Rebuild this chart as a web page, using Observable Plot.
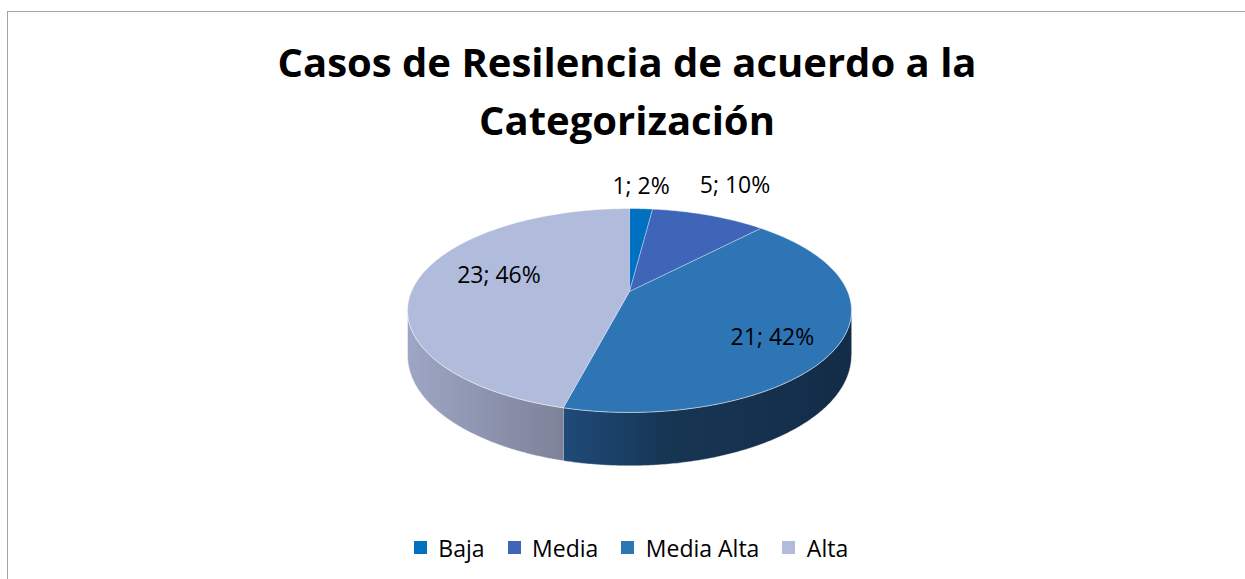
<!DOCTYPE html>
<html>
<head>
<meta charset="utf-8">
<script src="https://cdn.jsdelivr.net/npm/d3@7"></script>
<script src="https://cdn.jsdelivr.net/npm/@observablehq/plot@0.6"></script>
<style>
  body { margin: 0; background: #fff; }
  #chart { position: relative; width: 1245px; height: 579px; overflow: hidden; font-family: "Open Sans", sans-serif; }
  #frame { position: absolute; left: 7px; top: 11px; width: 1260px; height: 600px; border-left: 1.5px solid #a3a3a3; border-top: 1.5px solid #a3a3a3; }
  #pie { position: absolute; left: 0; top: 0; }
  #title { position: absolute; left: 4.5px; width: 1245px; top: 32.5px; text-align: center; font-weight: 700; font-size: 40px; line-height: 58px; color: #000; }
  #legend { position: absolute; left: 20px; width: 1245px; top: 531px; }
</style>
</head>
<body>
<div id="chart">
  <div id="frame"></div>
  <div id="pie"></div>
  <div id="title">Casos de Resilencia de acuerdo a la<br>Categorización</div>
  <div id="legend"></div>
</div>
<script>
// ---- data ----
const categories = ["Baja", "Media", "Media Alta", "Alta"];
const counts = [1, 5, 21, 23];
const colors = ["#0070C0", "#3F65B8", "#2E75B6", "#B1BCDD"];

// ---- layout (3D perspective ellipse) ----
const cx = 629, cy = 291, A = 218.1, B = 98.4, p = 0.186, T = 43.5;
// label placement: radial factor and pixel nudge per slice
const labelLayout = [[1, 0, -15], [1, 26, -22], [0.65, 11, 21], [0.65, 8, -1]];

function proj(theta, r = 1) {
  const u = r * Math.sin(theta), v = r * Math.cos(theta), w = 1 + p * v;
  return {x: cx + A * u / w, y: cy - B * v / w, w};
}
function arcPts(a0, a1) {
  const n = Math.max(2, Math.ceil(Math.abs(a1 - a0) / (Math.PI / 360)));
  return d3.range(n + 1).map(i => a0 + (a1 - a0) * i / n);
}

const total = d3.sum(counts);
const arcs = d3.pie().sort(null).value(d => d)(counts);

// top faces
const tops = arcs.map((a, i) => {
  const pts = [{x: cx, y: cy}].concat(arcPts(a.startAngle, a.endAngle).map(t => proj(t)));
  return {i, pts};
});

// visible side (front) between silhouette angles
const sil0 = Math.PI - Math.acos(p) + Math.PI / 2 - Math.PI / 2; // placeholder recomputed below
const sA = Math.acos(-p);            // right silhouette (~100.7deg)
const sB = 2 * Math.PI - Math.acos(-p); // left silhouette (~259.3deg)
const sides = [];
arcs.forEach((a, i) => {
  const s = Math.max(a.startAngle, sA), e = Math.min(a.endAngle, sB);
  if (e > s) {
    const top = arcPts(s, e).map(t => proj(t));
    const bot = top.slice().reverse().map(q => ({x: q.x, y: q.y + T / q.w}));
    sides.push({i, pts: top.concat(bot)});
  }
});

const labels = arcs.map((a, i) => {
  const [rf, dx, dy] = labelLayout[i];
  const q = proj((a.startAngle + a.endAngle) / 2, rf);
  return {x: q.x + dx, y: q.y + dy, text: `${counts[i]}; ${Math.round(100 * counts[i] / total)}%`};
});

const gradIds = {2: "gMA", 3: "gA"};

const svg = Plot.plot({
  width: 1245, height: 579, margin: 0,
  x: {type: "identity", axis: null},
  y: {type: "identity", axis: null},
  style: {background: "transparent", overflow: "visible"},
  marks: [
    ...sides.map(s => Plot.line(s.pts, {x: "x", y: "y", fill: `url(#${gradIds[s.i]})`, stroke: "#ffffff", strokeOpacity: 0.55, strokeWidth: 0.8})),
    ...tops.map(t => Plot.line(t.pts, {x: "x", y: "y", fill: colors[t.i], stroke: "#ffffff", strokeOpacity: 0.55, strokeWidth: 0.8})),
    Plot.text(labels, {x: "x", y: "y", text: "text", fontSize: 23, fontFamily: "Open Sans", lineAnchor: "bottom", textAnchor: "middle", fill: "#000"})
  ]
});

const defs = d3.select(svg).insert("defs", ":first-child");
const g1 = defs.append("linearGradient").attr("id", "gMA").attr("x1", 0).attr("x2", 1).attr("y1", 0).attr("y2", 0);
[[0, "#1F4B79"], [0.35, "#173654"], [1, "#132C48"]].forEach(([o, c]) => g1.append("stop").attr("offset", o).attr("stop-color", c));
const g2 = defs.append("linearGradient").attr("id", "gA").attr("x1", 0).attr("x2", 1).attr("y1", 0).attr("y2", 0);
[[0, "#9DA6C4"], [1, "#7E8299"]].forEach(([o, c]) => g2.append("stop").attr("offset", o).attr("stop-color", c));

document.getElementById("pie").appendChild(svg);

const legend = Plot.legend({
  color: {type: "ordinal", domain: categories, range: colors},
  legend: "swatches",
  swatchSize: 13,
  style: {fontSize: "23px", fontFamily: "Open Sans", color: "#000", justifyContent: "center"}
});
document.getElementById("legend").appendChild(legend);
</script>
</body>
</html>
